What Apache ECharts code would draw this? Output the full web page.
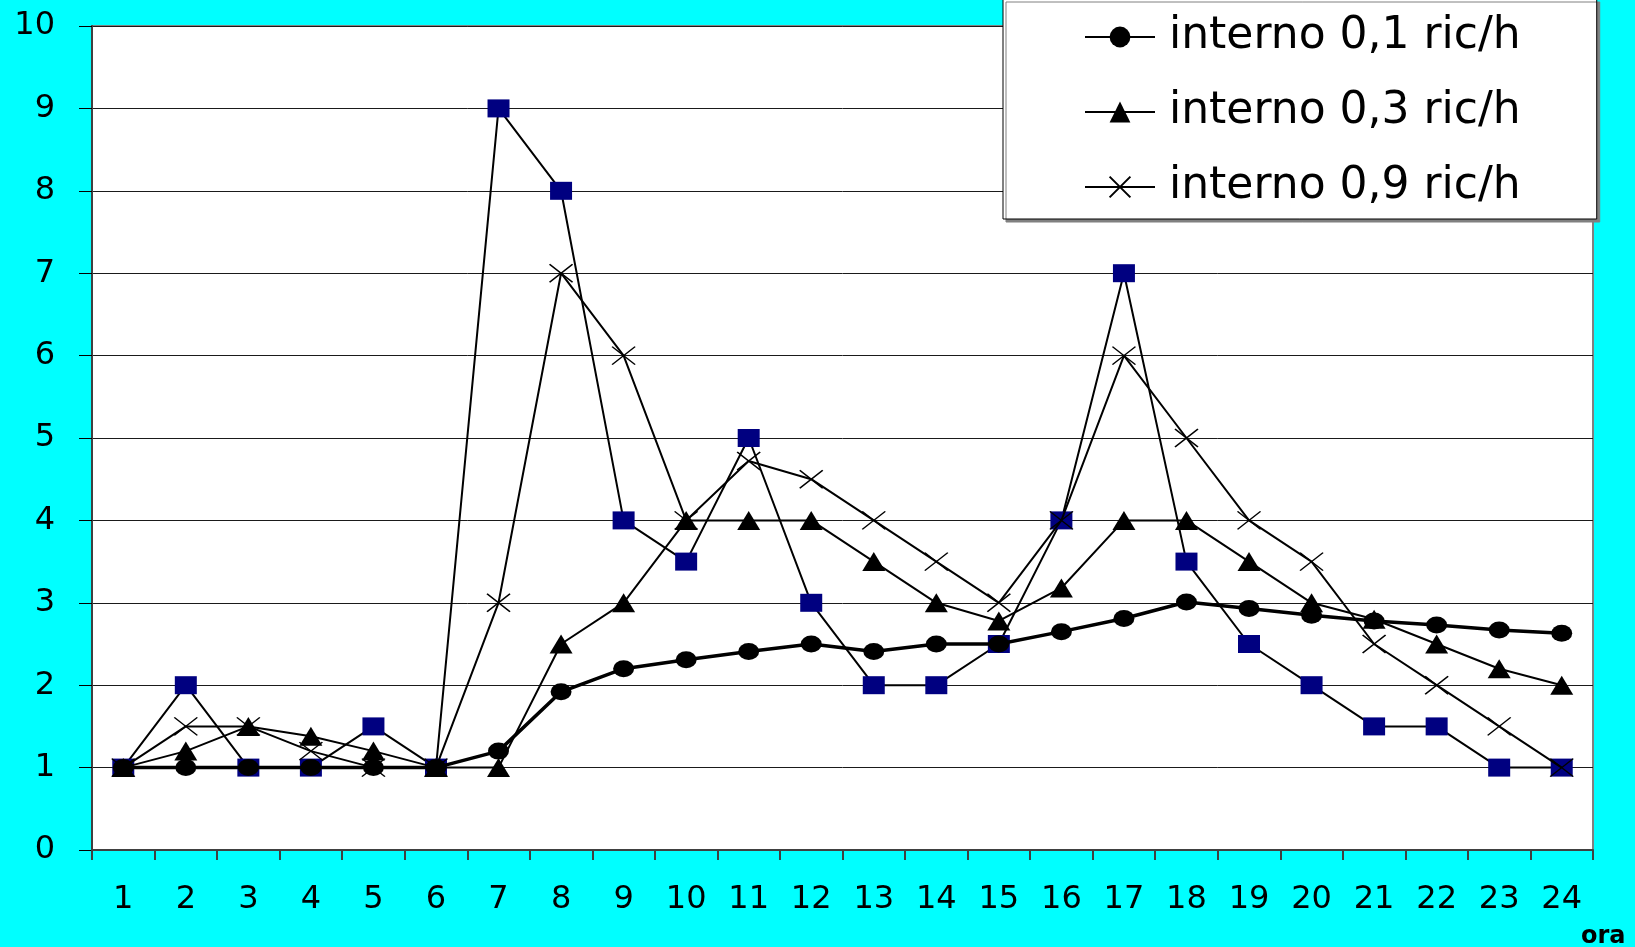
<!DOCTYPE html>
<html>
<head>
<meta charset="utf-8">
<script src="https://cdn.jsdelivr.net/npm/echarts@6/dist/echarts.min.js"></script>
<style>
  html, body { margin: 0; padding: 0; background: #00ffff; }
  #chart { width: 1635px; height: 947px; }
</style>
</head>
<body>
<div id="chart"></div>
<script>
// Hours of the day
const hours = ['1','2','3','4','5','6','7','8','9','10','11','12','13','14','15','16','17','18','19','20','21','22','23','24'];

// Series values per hour
const esterno   = [1, 2, 1, 1, 1.5, 1, 9, 8, 4, 3.5, 5, 3, 2, 2, 2.5, 4, 7, 3.5, 2.5, 2, 1.5, 1.5, 1, 1];
const interno01 = [1, 1, 1, 1, 1, 1, 1.2, 1.92, 2.2, 2.31, 2.41, 2.5, 2.41, 2.5, 2.5, 2.65, 2.81, 3.01, 2.93, 2.85, 2.78, 2.73, 2.67, 2.63];
const interno03 = [1, 1.2, 1.5, 1.38, 1.2, 1, 1, 2.5, 3, 4, 4, 4, 3.5, 3, 2.78, 3.18, 4, 4, 3.5, 3, 2.8, 2.5, 2.2, 2];
const interno09 = [1, 1.5, 1.5, 1.2, 1, 1, 3, 7, 6, 4, 4.72, 4.5, 4, 3.5, 3, 4, 6, 5, 4, 3.5, 2.5, 2, 1.5, 1];

// Legend entries and y tick labels
const legendNames = ['interno 0,1 ric/h', 'interno 0,3 ric/h', 'interno 0,9 ric/h'];
const yTicks = ['0','1','2','3','4','5','6','7','8','9','10'];

const FONT = 'DejaVu Sans';
const crossPath = 'path://M0,0L10,10M10,0L0,10';

const chart = echarts.init(document.getElementById('chart'), null, { renderer: 'canvas' });

chart.setOption({
  animation: false,
  backgroundColor: '#00ffff',
  title: {
    text: 'ora',
    left: 1581,
    top: 925,
    padding: 0,
    textStyle: { fontFamily: FONT, fontSize: 24, fontWeight: 'bold', color: '#000' }
  },
  grid: {
    left: 92, top: 26, right: 42, bottom: 97,
    show: true,
    backgroundColor: '#ffffff',
    borderColor: '#808080',
    borderWidth: 2
  },
  legend: {
    orient: 'vertical',
    left: 1003,
    top: -1,
    data: legendNames,
    selectedMode: false,
    backgroundColor: '#ffffff',
    borderColor: '#000000',
    borderWidth: 1,
    shadowColor: '#808080',
    shadowOffsetX: 3,
    shadowOffsetY: 3,
    shadowBlur: 0,
    padding: [16, 76, 10, 81],
    itemWidth: 70,
    itemHeight: 26,
    itemGap: 31,
    textStyle: { fontFamily: FONT, fontSize: 44, color: '#000', padding: [0, 0, 0, 9] }
  },
  xAxis: {
    type: 'category',
    data: hours,
    boundaryGap: true,
    axisLine: { lineStyle: { color: '#404040', width: 2 } },
    axisTick: { show: true, length: 10, alignWithLabel: false, lineStyle: { color: '#404040', width: 2 } },
    axisLabel: { fontFamily: FONT, fontSize: 32, color: '#000', margin: 34, interval: 0 },
    splitLine: { show: false }
  },
  yAxis: {
    type: 'value',
    min: 0,
    max: 10,
    interval: 1,
    axisLine: { show: true, lineStyle: { color: '#404040', width: 2 } },
    axisTick: { show: true, inside: false, length: 13, lineStyle: { color: '#000', width: 1 } },
    axisLabel: {
      fontFamily: FONT, fontSize: 32, color: '#000', margin: 37,
      formatter: v => yTicks[Math.round(v)]
    },
    splitLine: { show: true, lineStyle: { color: '#1a1a1a', width: 1 } }
  },
  series: [
    {
      name: 'esterno',
      type: 'line',
      data: esterno,
      symbol: 'rect',
      symbolSize: [22, 18],
      itemStyle: { color: '#000080' },
      lineStyle: { color: '#000', width: 2 },
      z: 2
    },
    {
      name: legendNames[2],
      type: 'line',
      data: interno09,
      symbol: crossPath,
      symbolSize: [23, 18],
      symbolKeepAspect: false,
      itemStyle: { color: '#000', borderColor: '#000', borderWidth: 1.5 },
      lineStyle: { color: '#000', width: 2 },
      z: 3
    },
    {
      name: legendNames[1],
      type: 'line',
      data: interno03,
      symbol: 'triangle',
      symbolSize: [23, 19],
      itemStyle: { color: '#000' },
      lineStyle: { color: '#000', width: 2 },
      z: 4
    },
    {
      name: legendNames[0],
      type: 'line',
      data: interno01,
      symbol: 'circle',
      symbolSize: [21, 17],
      itemStyle: { color: '#000' },
      lineStyle: { color: '#000', width: 3.5 },
      z: 5
    }
  ]
});
</script>
</body>
</html>
